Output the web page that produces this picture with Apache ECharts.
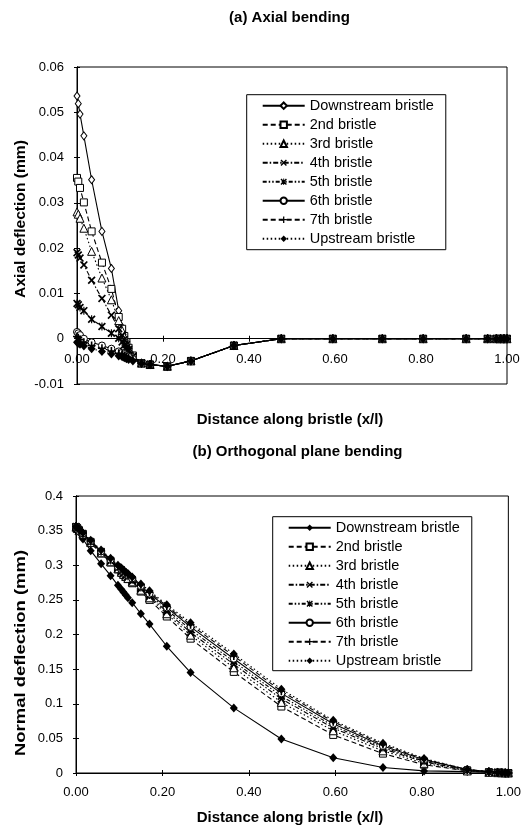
<!DOCTYPE html>
<html>
<head>
<meta charset="utf-8">
<script src="https://cdn.jsdelivr.net/npm/echarts@6/dist/echarts.min.js"></script>
<style>
  html, body { margin: 0; padding: 0; background: #fff; }
  #chart { width: 524px; height: 829px; }
</style>
</head>
<body>
<div id="chart"></div>
<script>
// x/l positions of the bristle nodes
const xNodes = [0, 0.003, 0.007, 0.016, 0.034, 0.058, 0.08, 0.097, 0.105, 0.11, 0.115, 0.12, 0.13,
  0.15, 0.17, 0.21, 0.265, 0.365, 0.475, 0.595, 0.71, 0.805, 0.905, 0.955, 0.975, 0.985, 0.993, 1.0];

const bristleNames = ['Downstream bristle', '2nd bristle', '3rd bristle', '4th bristle',
  '5th bristle', '6th bristle', '7th bristle', 'Upstream bristle'];

// (a) axial deflection (mm)
const axialDown = [0.0536, 0.0519, 0.0496, 0.0448, 0.0351, 0.0237, 0.0155, 0.0062, 0.0025, 0.0005, -0.001, -0.0022, -0.0038,
  -0.0054, -0.0057, -0.0061, -0.0049, -0.0015, 0, 0, 0, 0, 0, 0, 0, 0, 0, 0];
const axial2nd = [0.0355, 0.0347, 0.0333, 0.0301, 0.0237, 0.0168, 0.011, 0.0048, 0.0022, 0.0006, -0.0008, -0.002, -0.0037,
  -0.0054, -0.0057, -0.0061, -0.0049, -0.0015, 0, 0, 0, 0, 0, 0, 0, 0, 0, 0];
const axial3rd = [0.028, 0.0275, 0.0266, 0.0244, 0.0193, 0.0134, 0.0086, 0.004, 0.0018, 0.0004, -0.001, -0.0022, -0.0038,
  -0.0054, -0.0057, -0.0061, -0.0049, -0.0015, 0, 0, 0, 0, 0, 0, 0, 0, 0, 0];
const axial4th = [0.019, 0.0185, 0.0178, 0.0163, 0.0129, 0.0089, 0.0052, 0.0022, 0.0008, -0.0002, -0.0013, -0.0024, -0.0039,
  -0.0054, -0.0057, -0.0061, -0.0049, -0.0015, 0, 0, 0, 0, 0, 0, 0, 0, 0, 0];
const axial5th = [0.0078, 0.0075, 0.0069, 0.0062, 0.0043, 0.0027, 0.0012, 0.0001, -0.0007, -0.0014, -0.002, -0.0027, -0.004,
  -0.0054, -0.0057, -0.0061, -0.0049, -0.0015, 0, 0, 0, 0, 0, 0, 0, 0, 0, 0];
const axial6th = [0.0015, 0.0012, 0.0008, 0, -0.0008, -0.0015, -0.0022, -0.0028, -0.0031, -0.0034, -0.0037, -0.004, -0.0045,
  -0.0054, -0.0057, -0.0061, -0.0049, -0.0015, 0, 0, 0, 0, 0, 0, 0, 0, 0, 0];
const axial7th = [0.0005, 0.0002, -0.0002, -0.0008, -0.0015, -0.0021, -0.0027, -0.0032, -0.0034, -0.0037, -0.0039, -0.0042, -0.0046,
  -0.0054, -0.0057, -0.0061, -0.0049, -0.0015, 0, 0, 0, 0, 0, 0, 0, 0, 0, 0];
const axialUp = [-0.0008, -0.001, -0.0012, -0.0016, -0.0022, -0.0028, -0.0034, -0.0038, -0.004, -0.0042, -0.0044, -0.0046, -0.0049,
  -0.0054, -0.0057, -0.0061, -0.0049, -0.0015, 0, 0, 0, 0, 0, 0, 0, 0, 0, 0];

// (b) normal deflection (mm)
const normalDown = [0.356, 0.353, 0.348, 0.338, 0.321, 0.302, 0.285, 0.271, 0.265, 0.261, 0.257, 0.253, 0.246,
  0.230, 0.215, 0.183, 0.145, 0.094, 0.049, 0.022, 0.008, 0.003, 0.002, 0.001, 0.0005, 0.0003, 0.0001, 0];
const normal2nd = [0.355, 0.353, 0.350, 0.344, 0.332, 0.317, 0.304, 0.294, 0.289, 0.286, 0.283, 0.280, 0.274,
  0.262, 0.250, 0.226, 0.194, 0.146, 0.096, 0.055, 0.028, 0.012, 0.003, 0.001, 0.0005, 0.0003, 0.0001, 0];
const normal3rd = [0.355, 0.353, 0.350, 0.345, 0.333, 0.318, 0.305, 0.295, 0.290, 0.287, 0.284, 0.281, 0.276,
  0.264, 0.253, 0.230, 0.199, 0.152, 0.102, 0.061, 0.032, 0.014, 0.003, 0.001, 0.0005, 0.0003, 0.0001, 0];
const normal4th = [0.355, 0.353, 0.351, 0.345, 0.334, 0.319, 0.306, 0.296, 0.291, 0.288, 0.285, 0.283, 0.277,
  0.266, 0.255, 0.233, 0.203, 0.157, 0.107, 0.065, 0.035, 0.016, 0.004, 0.0015, 0.0007, 0.0004, 0.0001, 0];
const normal5th = [0.356, 0.354, 0.351, 0.346, 0.334, 0.320, 0.307, 0.297, 0.293, 0.290, 0.287, 0.284, 0.279,
  0.268, 0.257, 0.236, 0.207, 0.161, 0.111, 0.068, 0.037, 0.017, 0.004, 0.0015, 0.0007, 0.0004, 0.0001, 0];
const normal6th = [0.356, 0.354, 0.351, 0.346, 0.335, 0.320, 0.308, 0.298, 0.294, 0.291, 0.288, 0.286, 0.281,
  0.270, 0.259, 0.239, 0.211, 0.165, 0.115, 0.071, 0.039, 0.019, 0.005, 0.002, 0.001, 0.0005, 0.0002, 0];
const normal7th = [0.356, 0.354, 0.352, 0.346, 0.335, 0.321, 0.309, 0.299, 0.295, 0.292, 0.289, 0.287, 0.282,
  0.272, 0.261, 0.241, 0.214, 0.169, 0.118, 0.074, 0.041, 0.020, 0.005, 0.002, 0.001, 0.0005, 0.0002, 0];
const normalUp = [0.356, 0.354, 0.352, 0.347, 0.336, 0.322, 0.310, 0.300, 0.296, 0.293, 0.290, 0.288, 0.283,
  0.273, 0.263, 0.243, 0.217, 0.172, 0.121, 0.076, 0.043, 0.021, 0.005, 0.002, 0.001, 0.0005, 0.0002, 0];

const axialSets = [axialDown, axial2nd, axial3rd, axial4th, axial5th, axial6th, axial7th, axialUp];
const normalSets = [normalDown, normal2nd, normal3rd, normal4th, normal5th, normal6th, normal7th, normalUp];

const FONT = '"Liberation Sans", Arial, sans-serif';
const crossPath = 'path://M0,1.5L1.5,0L5,3.5L8.5,0L10,1.5L6.5,5L10,8.5L8.5,10L5,6.5L1.5,10L0,8.5L3.5,5Z';
const starPath = 'path://M0,1.5L1.5,0L5,3.5L8.5,0L10,1.5L6.5,5L10,8.5L8.5,10L5,6.5L1.5,10L0,8.5L3.5,5Z M4.3,0L5.7,0L5.7,10L4.3,10Z';
const plusPath = 'path://M4,0L6,0L6,4L10,4L10,6L6,6L6,10L4,10L4,6L0,6L0,4L4,4Z';

const openMark = { color: '#fff', borderColor: '#000', borderWidth: 1 };
const fillMark = { color: '#000', borderColor: '#000', borderWidth: 0 };

const markStyles = [
  { symbol: 'diamond', size: [6, 8], item: openMark, dash: 'solid' },
  { symbol: 'rect', size: 7, item: openMark, dash: [5, 3] },
  { symbol: 'triangle', size: 8, item: openMark, dash: [1.5, 2.5] },
  { symbol: crossPath, size: 8, item: fillMark, dash: [5, 2, 1.5, 2] },
  { symbol: starPath, size: 8, item: fillMark, dash: [4, 2, 1.5, 2, 1.5, 2] },
  { symbol: 'circle', size: 7, item: openMark, dash: 'solid' },
  { symbol: plusPath, size: 8, item: fillMark, dash: [5, 3] },
  { symbol: 'diamond', size: [8, 9], item: fillMark, dash: [1.5, 2.5] }
];
// lower chart: downstream bristle uses filled diamonds
const markStylesB = markStyles.map((s, i) => i === 0 ? { ...s, size: [8, 9], item: fillMark } : s);

const makeSeries = (sets, styles, gridIdx, suffix) => sets.map((vals, i) => ({
  name: bristleNames[i] + suffix,
  type: 'line',
  xAxisIndex: gridIdx,
  yAxisIndex: gridIdx,
  data: xNodes.map((x, k) => [x, vals[k]]),
  symbol: styles[i].symbol,
  symbolSize: styles[i].size,
  showAllSymbol: true,
  clip: false,
  itemStyle: styles[i].item,
  lineStyle: { color: '#000', width: 1.1, type: styles[i].dash },
  emphasis: { disabled: true }
}));

const labelStyle = { color: '#000', fontSize: 13, fontFamily: FONT };
const blackLine = { lineStyle: { color: '#000', width: 1 } };

// top chart: x axis sits on y = 0, i.e. 45.29px above the grid bottom
const zeroOffsetA = -317 * 0.01 / 0.07;

const xAxisBase = (grid, margin, offset) => ({
  gridIndex: grid, type: 'value', min: 0, max: 1, interval: 0.2, position: 'bottom', offset: offset,
  axisLine: { onZero: false, ...blackLine },
  axisTick: { inside: false, length: 3, ...blackLine },
  axisLabel: { ...labelStyle, margin: margin, formatter: v => v.toFixed(2) },
  splitLine: { show: false }
});
const xAxisDup = (grid, offset) => ({
  gridIndex: grid, type: 'value', min: 0, max: 1, interval: 0.2, position: 'bottom', offset: offset,
  axisLine: { onZero: false, ...blackLine },
  axisTick: { inside: true, length: 3, ...blackLine },
  axisLabel: { show: false },
  splitLine: { show: false }
});
const yAxisBase = (grid, min, max, step, fmt, inside) => ({
  gridIndex: grid, type: 'value', min: min, max: max, interval: step, position: 'left',
  axisLine: { show: true, onZero: false, ...blackLine },
  axisTick: { show: true, inside: inside, length: 3, ...blackLine },
  axisLabel: inside ? { show: false } : { ...labelStyle, margin: 13, formatter: fmt },
  splitLine: { show: false }
});

const fmtA = v => Math.abs(v) < 1e-9 ? '0' : v.toFixed(2);
const fmtB = v => String(+v.toFixed(2));

const legendBase = (left, top, pad, names, trim) => ({
  orient: 'vertical', left: left, top: top,
  itemWidth: 42, itemHeight: 8, itemGap: 3,
  padding: pad,
  borderColor: '#000', borderWidth: 1, backgroundColor: '#fff',
  selectedMode: false,
  data: names,
  formatter: trim ? (n => n.trim()) : (n => n),
  textStyle: { color: '#000', fontSize: 14.5, fontFamily: FONT, lineHeight: 16 }
});

const txt = (text, x, y, extra) => ({
  type: 'text', x: x, y: y, silent: true,
  ...extra,
  style: { text: text, fill: '#000', font: 'bold 15px ' + FONT,
    align: 'center', verticalAlign: 'middle', textAlign: 'center', textVerticalAlign: 'middle' }
});

const chart = echarts.init(document.getElementById('chart'));
chart.setOption({
  animation: false,
  backgroundColor: '#fff',
  grid: [
    { left: 77, top: 67, width: 430, height: 317, show: true, borderColor: '#000', borderWidth: 1 },
    { left: 76, top: 496, width: 437, height: 277, show: true, borderColor: '#000', borderWidth: 1 }
  ],
  xAxis: [xAxisBase(0, 14, zeroOffsetA), xAxisBase(1, 13, 0), xAxisDup(0, zeroOffsetA), xAxisDup(1, 0)],
  yAxis: [
    yAxisBase(0, -0.01, 0.06, 0.01, fmtA, false),
    yAxisBase(1, 0, 0.4, 0.05, fmtB, false),
    yAxisBase(0, -0.01, 0.06, 0.01, fmtA, true),
    yAxisBase(1, 0, 0.4, 0.05, fmtB, true)
  ],
  legend: [
    legendBase(246.7, 94.7, [3, 12, 3, 15], bristleNames, false),
    legendBase(272.7, 516.7, [3, 12, 2, 15], bristleNames.map(n => n + ' '), true)
  ],
  graphic: [
    txt('(a) Axial bending', 289.5, 18),
    txt('Distance along bristle (x/l)', 290, 420),
    txt('(b) Orthogonal plane bending', 297.5, 452),
    txt('Distance along bristle (x/l)', 290, 818),
    txt('Axial deflection (mm)', 20.5, 219, { rotation: Math.PI / 2, scaleX: 1.04 }),
    txt('Normal deflection (mm)', 20.5, 653, { rotation: Math.PI / 2, scaleX: 1.23 })
  ],
  series: [
    ...makeSeries(axialSets, markStyles, 0, ''),
    ...makeSeries(normalSets, markStylesB, 1, ' ')
  ]
});
</script>
</body>
</html>
